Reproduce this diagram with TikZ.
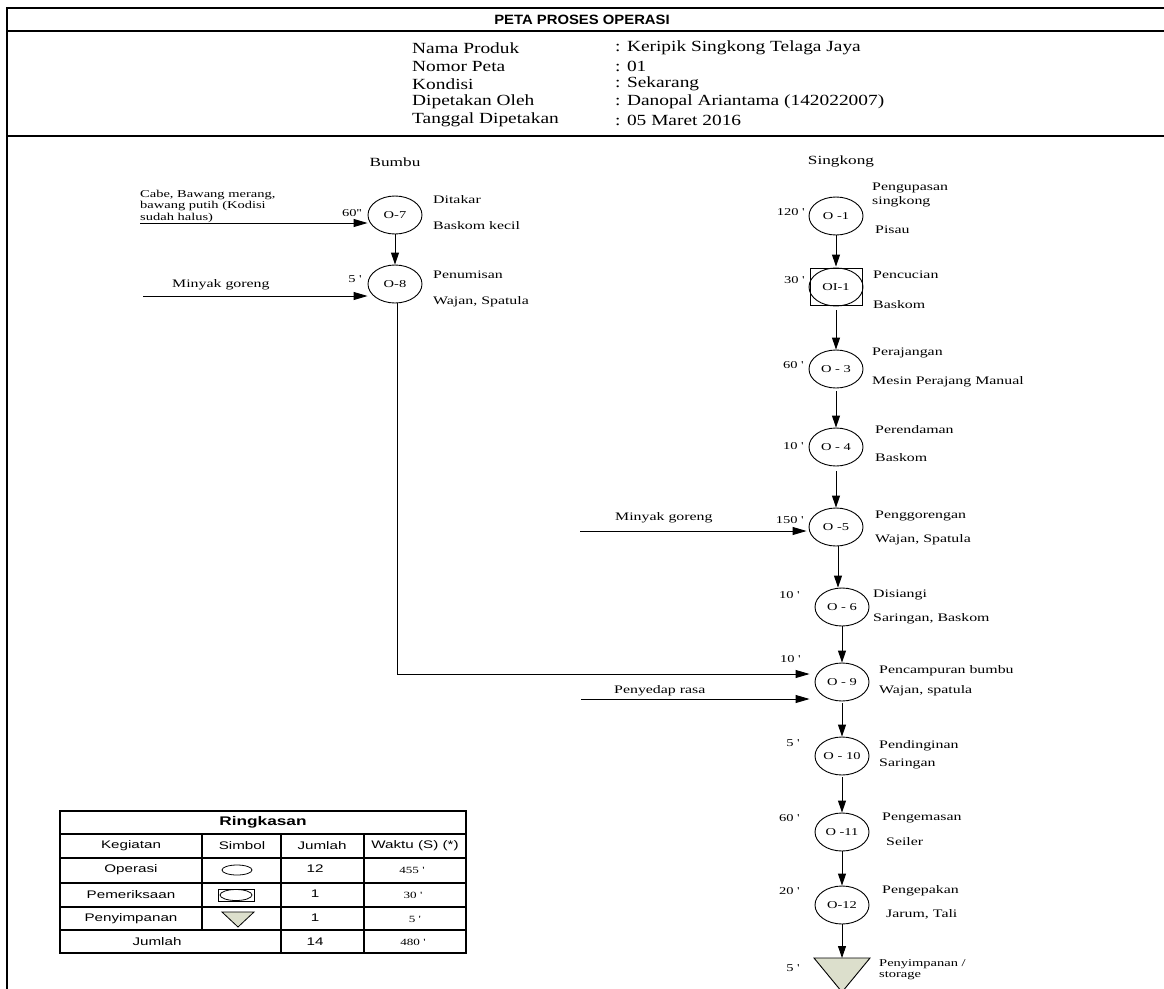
\documentclass[tikz,border=0pt]{standalone}
\usepackage{fontspec}
\setmainfont{Liberation Serif}
\newfontfamily\dserif[FakeStretch=1.38]{Liberation Serif}
\newfontfamily\hserif[FakeStretch=1.25]{Liberation Serif}
\newfontfamily\dsans[FakeStretch=1.38]{Liberation Sans}
\newfontfamily\tsans[FakeStretch=1.1]{Liberation Sans}
\usetikzlibrary{shapes.geometric,arrows.meta,calc}
\definecolor{storfill}{RGB}{220,223,204}
\begin{document}
\begin{tikzpicture}[x=1pt,y=-1pt,
  frame/.style={line width=2pt},
  opnode/.style={ellipse, draw, line width=0.9pt, minimum width=54pt, minimum height=38pt, inner sep=0pt, font=\dserif\fontsize{10.5}{12}\selectfont},
  lbl/.style={anchor=west, inner sep=0pt, font=\dserif\fontsize{11.5}{13}\selectfont},
  small/.style={anchor=west, inner sep=0pt, font=\dserif\fontsize{10.5}{11.5}\selectfont, align=left},
  tlbl/.style={anchor=east, inner sep=0pt, font=\dserif\fontsize{10.5}{12}\selectfont},
  colhead/.style={inner sep=0pt, font=\dserif\fontsize{12.5}{14}\selectfont},
  hdr/.style={anchor=west, inner sep=0pt, font=\hserif\fontsize{15.5}{18}\selectfont},
  arr/.style={-{Triangle[length=12pt,width=8pt]}, line width=0.9pt},
  harr/.style={-{Triangle[length=14pt,width=8pt]}, line width=0.9pt},
  tcell/.style={inner sep=0pt, font=\dsans\fontsize{11}{13}\selectfont},
  tnum/.style={inner sep=0pt, font=\dserif\fontsize{9.5}{11}\selectfont},
  tline/.style={line width=1.3pt},
]
\useasboundingbox (0,0) rectangle (1164,988);
% frame
\draw[frame] (7,990) -- (7,8) -- (1164,8);
\draw[frame] (7,31) -- (1164,31);
\draw[frame] (7,136) -- (1164,136);
\node[inner sep=0pt, font=\tsans\bfseries\fontsize{13.5}{16}\selectfont] (title) at (582,19.5) {PETA PROSES OPERASI};
% header
\node[hdr] (h1) at (412,48) {Nama Produk};
\node[hdr] (h2) at (412,66) {Nomor Peta};
\node[hdr] (h3) at (412,84) {Kondisi};
\node[hdr] (h4) at (412,102) {Dipetakan Oleh};
\node[hdr] (h5) at (412,120) {Tanggal Dipetakan};
\node[hdr] (v1) at (615,48) {: Keripik Singkong Telaga Jaya};
\node[hdr] (v2) at (615,66) {: 01};
\node[hdr] (v3) at (615,84) {: Sekarang};
\node[hdr] (v4) at (615,102) {: Danopal Ariantama (142022007)};
\node[hdr] (v5) at (615,120) {: 05 Maret 2016};
% column heads
\node[colhead] (bumbu) at (395,162) {Bumbu};
\node[colhead] (singkong) at (841,162) {Singkong};
% left branch
\node[opnode] (O7) at (395,215) {O-7};
\node[opnode] (O8) at (395,284) {O-8};
\draw[arr] (O7) -- (O8);
\coordinate (inA) at (140,223);
\coordinate (inB) at (143,296);
\draw[harr] (inA) -- (inA -| O7.west);
\draw[harr] (inB) -- (inB -| O8.west);
\node[small] (tA) at (140,206) {Cabe, Bawang merang,\\bawang putih (Kodisi\\sudah halus)};
\node[tlbl] (t7) at (362,213) {60'{}'};
\node[lbl] (l7a) at (433,200) {Ditakar};
\node[lbl] (l7b) at (433,226) {Baskom kecil};
\node[lbl] (tB) at (172,285) {Minyak goreng};
\node[tlbl] (t8) at (362,279) {5 '};
\node[lbl] (l8a) at (433,275) {Penumisan};
\node[lbl] (l8b) at (433,302) {Wajan, Spatula};
% right branch
\node[opnode] (O1) at (836,216) {O -1};
\node[opnode] (OI1) at (836,287) {OI-1};
\draw[line width=0.9pt] ($(OI1.center)+(-26,-18.5)$) rectangle ($(OI1.center)+(26,18.5)$);
\node[opnode] (O3) at (836,369) {O - 3};
\node[opnode] (O4) at (836,447) {O - 4};
\node[opnode] (O5) at (836,527) {O -5};
\node[opnode] (O6) at (842,607) {O - 6};
\node[opnode] (O9) at (842,682) {O - 9};
\node[opnode] (O10) at (842,756) {O - 10};
\node[opnode] (O11) at (842,832) {O -11};
\node[opnode] (O12) at (842,905) {O-12};
\coordinate (T) at (842,958);
\draw[line width=0.9pt, fill=storfill] ($(T)+(-28,0)$) -- ($(T)+(28,0)$) -- ($(T)+(0,34)$) -- cycle;
\draw[arr] (O1) -- ($(OI1.north)+(0,-1)$);
\draw[arr] ($(OI1.south)+(0,4)$) -- (O3);
\draw[arr] ($(O3.south)+(0,3)$) -- (O4);
\draw[arr] ($(O4.south)+(0,5)$) -- (O5);
\draw[arr] ($(O5.south)+(2,0)$) -- ($(O5.south |- O6.north)+(2,0)$);
\draw[arr] (O6.south) -- (O9.north);
\draw[arr] ($(O9.south)+(0,2)$) -- (O10.north);
\draw[arr] ($(O10.south)+(0,2)$) -- (O11.north);
\draw[arr] (O11.south) -- (O12.north);
\draw[arr] (O12.south) -- (T);
% inputs on right
\coordinate (inC) at (580,531);
\draw[harr] (inC) -- ($(inC -| O5.west)+(-2,0)$);
\node[lbl] (tC) at (615,518) {Minyak goreng};
\coordinate (bend) at (397,674);
\draw[harr] (O8.south -| bend) -- (bend) -- ($(bend -| O9.west)+(-5,0)$);
\coordinate (inD) at (581,699);
\draw[harr] (inD) -- ($(inD -| O9.west)+(-5,0)$);
\node[lbl] (tD) at (614,691) {Penyedap rasa};
% right labels
\node[tlbl] (t1) at (805,212) {120 '};
\node[lbl] (l1a) at (872,188) {Pengupasan};
\node[lbl] (l1b) at (872,202) {singkong};
\node[lbl] (l1c) at (875,230) {Pisau};
\node[tlbl] (t2) at (805,280) {30 '};
\node[lbl] (l2a) at (873,275) {Pencucian};
\node[lbl] (l2b) at (873,305) {Baskom};
\node[tlbl] (t3) at (804,365) {60 '};
\node[lbl] (l3a) at (872,353) {Perajangan};
\node[lbl] (l3b) at (872,382) {Mesin Perajang Manual};
\node[tlbl] (t4) at (804,446) {10 '};
\node[lbl] (l4a) at (875,430) {Perendaman};
\node[lbl] (l4b) at (875,458) {Baskom};
\node[tlbl] (t5) at (804,520) {150 '};
\node[lbl] (l5a) at (875,516) {Penggorengan};
\node[lbl] (l5b) at (875,540) {Wajan, Spatula};
\node[tlbl] (t6) at (800,595) {10 '};
\node[lbl] (l6a) at (873,595) {Disiangi};
\node[lbl] (l6b) at (873,619) {Saringan, Baskom};
\node[tlbl] (t9) at (801,659) {10 '};
\node[lbl] (l9a) at (879,671) {Pencampuran bumbu};
\node[lbl] (l9b) at (879,691) {Wajan, spatula};
\node[tlbl] (t10) at (800,743) {5 '};
\node[lbl] (l10a) at (879,746) {Pendinginan};
\node[lbl] (l10b) at (879,764) {Saringan};
\node[tlbl] (t11) at (800,818) {60 '};
\node[lbl] (l11a) at (882,818) {Pengemasan};
\node[lbl] (l11b) at (886,842) {Seiler};
\node[tlbl] (t12) at (800,891) {20 '};
\node[lbl] (l12a) at (882,891) {Pengepakan};
\node[lbl] (l12b) at (886,914) {Jarum, Tali};
\node[tlbl] (t13) at (800,968) {5 '};
\node[small] (l13) at (879,969.5) {Penyimpanan /\\storage};
% summary table
\draw[tline] (60,811) rectangle (466,953);
\foreach \yy in {834,858,883,907,930} \draw[tline] (60,\yy) -- (466,\yy);
\draw[tline] (202,834) -- (202,930);
\draw[tline] (281,834) -- (281,953);
\draw[tline] (364,834) -- (364,953);
\node[tcell, font=\dsans\bfseries\fontsize{12.5}{14}\selectfont] (rk) at (263,822.5) {Ringkasan};
\node[tcell] (c11) at (131,846) {Kegiatan};
\node[tcell] (c12) at (242,846) {Simbol};
\node[tcell] (c13) at (322,846) {Jumlah};
\node[tcell] (c14) at (415,846) {Waktu (S) (*)};
\node[tcell] (c21) at (131,870) {Operasi};
\node[tcell] (c23) at (315,869) {12};
\node[tnum] (c24) at (412,870) {455 '};
\node[tcell] (c31) at (131,895) {Pemeriksaan};
\node[tcell] (c33) at (315,894) {1};
\node[tnum] (c34) at (413,895) {30 '};
\node[tcell] (c41) at (131,919) {Penyimpanan};
\node[tcell] (c43) at (315,918) {1};
\node[tnum] (c44) at (415,919) {5 '};
\node[tcell] (c51) at (157,942) {Jumlah};
\node[tcell] (c53) at (315,942) {14};
\node[tnum] (c54) at (413,942) {480 '};
\draw[line width=0.8pt] (237,870) ellipse [x radius=15, y radius=5];
\draw[line width=0.8pt] (218,889) rectangle (254,901);
\draw[line width=0.8pt] (236,895) ellipse [x radius=16, y radius=5.5];
\draw[line width=0.8pt, fill=storfill] (222,912) -- (254,912) -- (238,927) -- cycle;
\end{tikzpicture}
\end{document}
